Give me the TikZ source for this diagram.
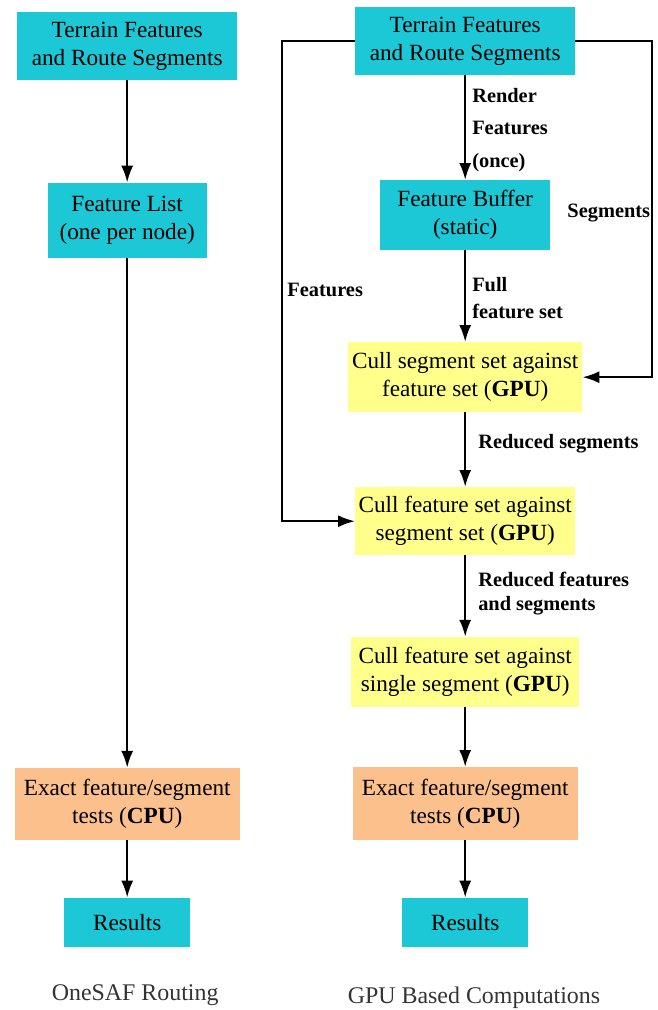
\documentclass[tikz,border=0pt]{standalone}
\usepackage{fontspec}
\setmainfont{Liberation Serif}
\usetikzlibrary{arrows.meta,positioning}
\definecolor{boxCyan}{RGB}{28,200,214}
\definecolor{boxYellow}{RGB}{255,255,140}
\definecolor{boxOrange}{RGB}{251,192,140}

\begin{document}
\begin{tikzpicture}[x=1cm,y=1cm,
  stepbox/.style={fill=#1,text=black,align=center,inner sep=1pt,font=\fontsize{16.5}{20}\selectfont},
  flow/.style={line width=1.6pt,-{Latex[length=0.42cm,width=0.30cm]}},
  edgelabel/.style={anchor=west,align=left,inner sep=0pt,font=\bfseries\fontsize{14.5}{17}\selectfont},
  caption/.style={text=black!80,font=\fontsize{17}{20}\selectfont}]
\path[use as bounding box] (0,0) rectangle (16.45,-25.25);

% OneSAF routing
\node[stepbox=boxCyan,minimum width=5.50cm,minimum height=1.70cm] (lterrain) at (3.18,-1.15) {Terrain Features\\and Route Segments};
\node[stepbox=boxCyan,minimum width=3.98cm,minimum height=1.88cm] (llist) at (3.18,-5.51) {Feature List\\(one per node)};
\node[stepbox=boxOrange,minimum width=5.63cm,minimum height=1.80cm] (lexact) at (3.18,-20.10) {Exact feature/segment\\tests (\textbf{CPU})};
\node[stepbox=boxCyan,minimum width=3.15cm,minimum height=1.23cm] (lresults) at (3.18,-23.06) {Results};
\node[caption] (lcaption) at (3.38,-24.88) {OneSAF Routing};

\draw[flow] (lterrain) -- (llist);
\draw[flow] (llist) -- (lexact);
\draw[flow] (lexact) -- (lresults);

% GPU based computations
\node[stepbox=boxCyan,minimum width=5.50cm,minimum height=1.70cm] (rterrain) at (11.63,-1.03) {Terrain Features\\and Route Segments};
\node[stepbox=boxCyan,minimum width=4.25cm,minimum height=1.75cm] (rbuffer) at (11.63,-5.38) {Feature Buffer\\(static)};
\node[stepbox=boxYellow,minimum width=5.85cm,minimum height=1.75cm] (rcullseg) at (11.63,-9.43) {Cull segment set against\\feature set (\textbf{GPU})};
\node[stepbox=boxYellow,minimum width=5.50cm,minimum height=1.70cm] (rcullfeat) at (11.63,-13.03) {Cull feature set against\\segment set (\textbf{GPU})};
\node[stepbox=boxYellow,minimum width=5.70cm,minimum height=1.75cm] (rcullone) at (11.63,-16.80) {Cull feature set against\\single segment (\textbf{GPU})};
\node[stepbox=boxOrange,minimum width=5.63cm,minimum height=1.82cm] (rexact) at (11.63,-20.09) {Exact feature/segment\\tests (\textbf{CPU})};
\node[stepbox=boxCyan,minimum width=3.15cm,minimum height=1.23cm] (rresults) at (11.63,-23.06) {Results};
\node[caption] (rcaption) at (11.85,-24.95) {GPU Based Computations};

\coordinate (leftbus) at (7.05,0);
\coordinate (rightbus) at (16.30,0);

\draw[flow] (rterrain) -- (rbuffer);
\draw[flow] (rbuffer) -- (rcullseg);
\draw[flow] (rcullseg) -- (rcullfeat);
\draw[flow] (rcullfeat) -- (rcullone);
\draw[flow] (rcullone) -- (rexact);
\draw[flow] (rexact) -- (rresults);
\draw[flow] (rterrain.west) -| (leftbus |- rcullfeat) -- (rcullfeat.west);
\draw[flow] (rterrain.east) -| (rightbus |- rcullseg) -- (rcullseg.east);

\node[edgelabel] (lblrender) at (11.80,-3.25) {Render\\[6pt]Features\\[6pt](once)};
\node[edgelabel] (lblsegments) at (14.18,-5.33) {Segments};
\node[edgelabel] (lblfeatures) at (7.18,-7.25) {Features};
\node[edgelabel] (lblfull) at (11.80,-7.45) {Full\\[2pt]feature set};
\node[edgelabel] (lblreduced) at (11.95,-11.08) {Reduced segments};
\node[edgelabel] (lblreducedboth) at (11.95,-14.83) {Reduced features\\and segments};
\end{tikzpicture}
\end{document}
